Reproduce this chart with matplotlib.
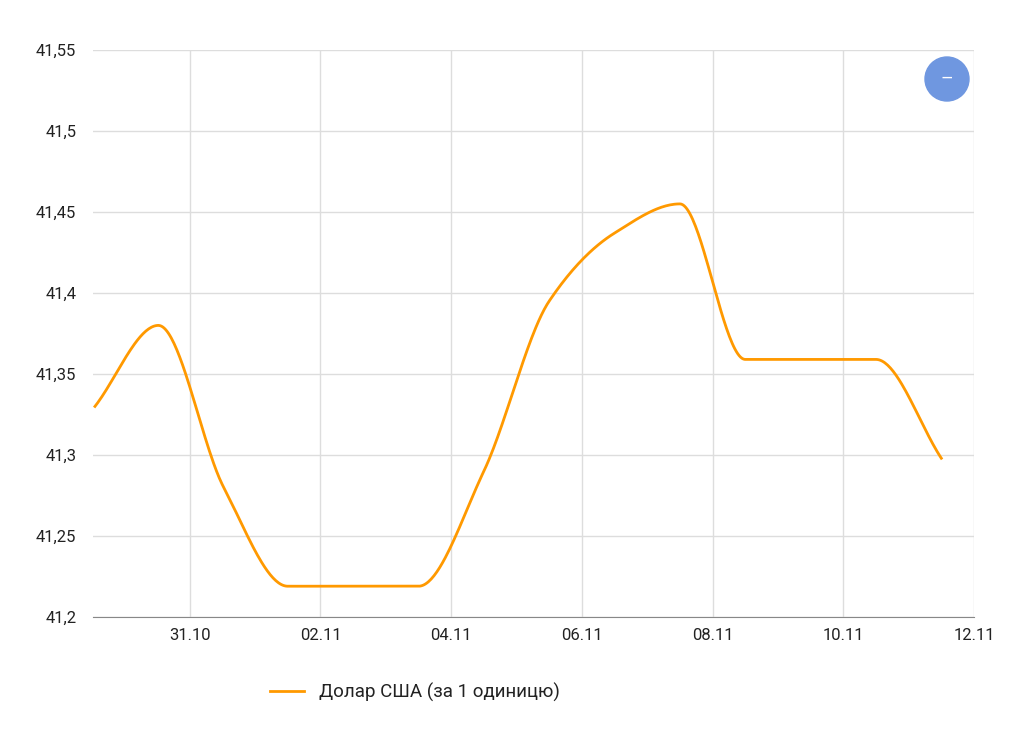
import numpy as np
import matplotlib
matplotlib.use("Agg")
import matplotlib.pyplot as plt
from matplotlib.patches import Ellipse

plt.rcParams["font.family"] = ["Roboto", "DejaVu Sans"]

# day number (31 = 31.10, 32 = 01.11 ...) and rate
days = [29.55, 30.52, 31.52, 32.5, 33.5, 34.5, 35.5, 36.5, 37.5, 38.5, 39.5, 40.5, 41.5, 42.5]
rate = [41.33, 41.38, 41.28, 41.219, 41.219, 41.219, 41.29, 41.395, 41.437, 41.455, 41.359, 41.359, 41.359, 41.298]
tick_days = [31, 33, 35, 37, 39, 41, 43]
tick_labels = ["31.10", "02.11", "04.11", "06.11", "08.11", "10.11", "12.11"]
y_ticks = [41.2, 41.25, 41.3, 41.35, 41.4, 41.45, 41.5, 41.55]

def pchip(x, y, xs):
    x = np.asarray(x, float); y = np.asarray(y, float)
    h = np.diff(x); d = np.diff(y) / h
    m = np.zeros_like(y)
    for i in range(1, len(y) - 1):
        if d[i-1] * d[i] > 0:
            w1 = 2*h[i] + h[i-1]; w2 = h[i] + 2*h[i-1]
            m[i] = (w1 + w2) / (w1/d[i-1] + w2/d[i])
    m[0] = d[0]; m[-1] = d[-1]
    out = np.empty_like(xs)
    for j, xv in enumerate(xs):
        i = min(np.searchsorted(x, xv) - 1, len(h) - 1); i = max(i, 0)
        t = (xv - x[i]) / h[i]
        h00 = 2*t**3 - 3*t**2 + 1; h10 = t**3 - 2*t**2 + t
        h01 = -2*t**3 + 3*t**2; h11 = t**3 - t**2
        out[j] = h00*y[i] + h10*h[i]*m[i] + h01*y[i+1] + h11*h[i]*m[i+1]
    return out

fig = plt.figure(figsize=(10.17, 7.29), dpi=100)
ax = fig.add_axes([93/1017, 112/729, 881/1017, 567/729])

xs = np.linspace(days[0], days[-1], 600)
ax.plot(xs, pchip(days, rate, xs), color="#ff9900", lw=2, label="Долар США (за 1 одиницю)")

ax.set_xlim(29.52, 42.97)
ax.set_ylim(41.2, 41.55)
ax.set_xticks(tick_days)
ax.set_xticklabels(tick_labels)
ax.set_yticks(y_ticks)
ax.set_yticklabels([f"{v:g}".replace(".", ",") for v in y_ticks])
ax.grid(True, color="#dddddd", lw=1)
for s in ["top", "left", "right"]:
    ax.spines[s].set_visible(False)
ax.spines["bottom"].set_color("#888888")
ax.tick_params(length=0, labelsize=12, colors="#222222")
ax.tick_params(axis="y", pad=12)
ax.tick_params(axis="x", pad=8)

fig.legend(loc="center", bbox_to_anchor=(0.408, 1 - 692/729), frameon=False,
           fontsize=13.5, handlelength=1.8, labelcolor="#222222")

fig.patches.append(Ellipse((947/1017, 1 - 79/729), 44/1017, 44/729, transform=fig.transFigure,
                           color="#6f97e0", zorder=10))
fig.text(947/1017, 1 - 79/729, "–", color="white", ha="center", va="center",
         fontsize=14, zorder=11)

fig.savefig("out.png", dpi=100)
